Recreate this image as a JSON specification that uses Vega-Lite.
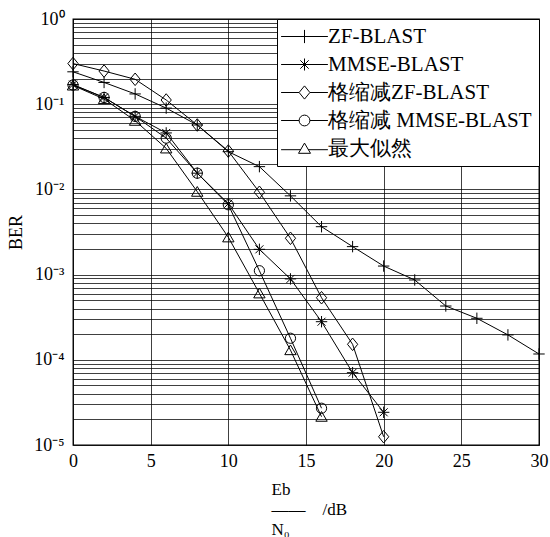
{
  "$schema": "https://vega.github.io/schema/vega-lite/v6.json",
  "width": 466,
  "height": 426,
  "autosize": {"type": "none"},
  "padding": {"left": 73, "top": 19, "right": 11, "bottom": 92},
  "background": "white",
  "config": {
    "view": {"stroke": "#000", "strokeWidth": 1.3},
    "font": "Liberation Serif",
    "axis": {
      "domain": false,
      "ticks": false,
      "grid": true,
      "gridColor": "#000",
      "gridOpacity": 0.75,
      "gridWidth": 1,
      "labelFont": "Liberation Serif",
      "labelFontSize": 18,
      "labelColor": "#000",
      "titleFont": "Liberation Serif",
      "titleFontWeight": "normal",
      "titleColor": "#000",
      "titleFontSize": 18,
      "labelOverlap": false,
      "labelBound": false,
      "labelFlush": false
    },
    "legend": {
      "orient": "top-right",
      "offset": 0,
      "padding": 7,
      "strokeColor": "#000",
      "fillColor": "#fff",
      "labelFont": "Liberation Serif",
      "labelFontSize": 21,
      "labelColor": "#000",
      "symbolSize": 144,
      "symbolOffset": 10,
      "symbolOpacity": 1,
      "symbolStrokeWidth": 1,
      "symbolStrokeColor": "#000",
      "symbolFillColor": "transparent",
      "labelOffset": 13,
      "rowPadding": 6,
      "labelLimit": 400
    }
  },
  "data": {
    "values": [
      {"snr": 0, "ber": 0.24, "method": "ZF-BLAST"},
      {"snr": 2, "ber": 0.18, "method": "ZF-BLAST"},
      {"snr": 4, "ber": 0.132, "method": "ZF-BLAST"},
      {"snr": 6, "ber": 0.09, "method": "ZF-BLAST"},
      {"snr": 8, "ber": 0.057, "method": "ZF-BLAST"},
      {"snr": 10, "ber": 0.0277, "method": "ZF-BLAST"},
      {"snr": 12, "ber": 0.0185, "method": "ZF-BLAST"},
      {"snr": 14, "ber": 0.0084, "method": "ZF-BLAST"},
      {"snr": 16, "ber": 0.00365, "method": "ZF-BLAST"},
      {"snr": 18, "ber": 0.00213, "method": "ZF-BLAST"},
      {"snr": 20, "ber": 0.00126, "method": "ZF-BLAST"},
      {"snr": 22, "ber": 0.000865, "method": "ZF-BLAST"},
      {"snr": 24, "ber": 0.000428, "method": "ZF-BLAST"},
      {"snr": 26, "ber": 0.000307, "method": "ZF-BLAST"},
      {"snr": 28, "ber": 0.000196, "method": "ZF-BLAST"},
      {"snr": 30, "ber": 0.000117, "method": "ZF-BLAST"},
      {"snr": 0, "ber": 0.17, "method": "MMSE-BLAST"},
      {"snr": 2, "ber": 0.12, "method": "MMSE-BLAST"},
      {"snr": 4, "ber": 0.072, "method": "MMSE-BLAST"},
      {"snr": 6, "ber": 0.046, "method": "MMSE-BLAST"},
      {"snr": 8, "ber": 0.0155, "method": "MMSE-BLAST"},
      {"snr": 10, "ber": 0.0068, "method": "MMSE-BLAST"},
      {"snr": 12, "ber": 0.00198, "method": "MMSE-BLAST"},
      {"snr": 14, "ber": 0.00089, "method": "MMSE-BLAST"},
      {"snr": 16, "ber": 0.00028, "method": "MMSE-BLAST"},
      {"snr": 18, "ber": 0.0000706, "method": "MMSE-BLAST"},
      {"snr": 20, "ber": 0.0000242, "method": "MMSE-BLAST"},
      {"snr": 0, "ber": 0.30, "method": "格缩减ZF-BLAST"},
      {"snr": 2, "ber": 0.245, "method": "格缩减ZF-BLAST"},
      {"snr": 4, "ber": 0.196, "method": "格缩减ZF-BLAST"},
      {"snr": 6, "ber": 0.112, "method": "格缩减ZF-BLAST"},
      {"snr": 8, "ber": 0.057, "method": "格缩减ZF-BLAST"},
      {"snr": 10, "ber": 0.0282, "method": "格缩减ZF-BLAST"},
      {"snr": 12, "ber": 0.00925, "method": "格缩减ZF-BLAST"},
      {"snr": 14, "ber": 0.00267, "method": "格缩减ZF-BLAST"},
      {"snr": 16, "ber": 0.000535, "method": "格缩减ZF-BLAST"},
      {"snr": 18, "ber": 0.000152, "method": "格缩减ZF-BLAST"},
      {"snr": 20, "ber": 0.0000125, "method": "格缩减ZF-BLAST"},
      {"snr": 0, "ber": 0.168, "method": "格缩减 MMSE-BLAST"},
      {"snr": 2, "ber": 0.12, "method": "格缩减 MMSE-BLAST"},
      {"snr": 4, "ber": 0.072, "method": "格缩减 MMSE-BLAST"},
      {"snr": 6, "ber": 0.04, "method": "格缩减 MMSE-BLAST"},
      {"snr": 8, "ber": 0.0155, "method": "格缩减 MMSE-BLAST"},
      {"snr": 10, "ber": 0.0066, "method": "格缩减 MMSE-BLAST"},
      {"snr": 12, "ber": 0.00111, "method": "格缩减 MMSE-BLAST"},
      {"snr": 14, "ber": 0.000179, "method": "格缩减 MMSE-BLAST"},
      {"snr": 16, "ber": 0.000027, "method": "格缩减 MMSE-BLAST"},
      {"snr": 0, "ber": 0.166, "method": "最大似然"},
      {"snr": 2, "ber": 0.115, "method": "最大似然"},
      {"snr": 4, "ber": 0.064, "method": "最大似然"},
      {"snr": 6, "ber": 0.0303, "method": "最大似然"},
      {"snr": 8, "ber": 0.0094, "method": "最大似然"},
      {"snr": 10, "ber": 0.00274, "method": "最大似然"},
      {"snr": 12, "ber": 0.000603, "method": "最大似然"},
      {"snr": 14, "ber": 0.00013, "method": "最大似然"},
      {"snr": 16, "ber": 0.0000215, "method": "最大似然"}
    ]
  },
  "encoding": {
    "x": {
      "field": "snr",
      "type": "quantitative",
      "scale": {"domain": [0, 30], "nice": false, "zero": false},
      "axis": {
        "values": [0, 5, 10, 15, 20, 25, 30],
        "labelFont": "Liberation Serif",
        "labelPadding": 7,
        "titlePadding": 11,
        "titleAlign": "left",
        "titleX": 198,
        "titleFontSize": 17,
        "titleLineHeight": 20,
        "title": ["\u00a0\u00a0Eb", "——\u00a0\u00a0\u00a0\u00a0/dB", "\u00a0\u00a0N₀"]
      }
    },
    "y": {
      "field": "ber",
      "type": "quantitative",
      "scale": {"type": "log", "domain": [0.00001, 1], "nice": false},
      "axis": {
        "title": "BER",
        "labelFont": "Liberation Serif",
        "titlePadding": 8,
        "labelPadding": 9,
        "values": [0.00001, 0.00002, 0.00003, 0.00004, 0.00005, 0.00006, 0.00007, 0.00008, 0.00009,
                   0.0001, 0.0002, 0.0003, 0.0004, 0.0005, 0.0006, 0.0007, 0.0008, 0.0009,
                   0.001, 0.002, 0.003, 0.004, 0.005, 0.006, 0.007, 0.008, 0.009,
                   0.01, 0.02, 0.03, 0.04, 0.05, 0.06, 0.07, 0.08, 0.09,
                   0.1, 0.2, 0.3, 0.4, 0.5, 0.6, 0.7, 0.8, 0.9, 1],
        "labelExpr": "datum.value == 1 ? '10⁰' : datum.value == 0.1 ? '10⁻¹' : datum.value == 0.01 ? '10⁻²' : datum.value == 0.001 ? '10⁻³' : datum.value == 0.0001 ? '10⁻⁴' : datum.value == 0.00001 ? '10⁻⁵' : ''"
      }
    }
  },
  "layer": [
    {
      "mark": {"type": "line", "color": "#000", "strokeWidth": 1},
      "encoding": {"detail": {"field": "method"}}
    },
    {
      "mark": {"type": "point", "filled": false, "color": "#000", "strokeWidth": 1, "size": 130, "opacity": 1},
      "encoding": {
        "shape": {
          "field": "method",
          "type": "nominal",
          "legend": null,
          "scale": {
            "domain": ["ZF-BLAST", "MMSE-BLAST", "格缩减ZF-BLAST", "格缩减 MMSE-BLAST", "最大似然"],
            "range": [
              "M-1,0H1M0,-1V1",
              "M-1,0H1M0,-1V1M-0.7,-0.7L0.7,0.7M-0.7,0.7L0.7,-0.7",
              "M0,-1.1L0.9,0L0,1.1L-0.9,0Z",
              "M-0.9,0A0.9,0.9,0,1,1,0.9,0A0.9,0.9,0,1,1,-0.9,0Z",
              "M0,-0.9L1,0.8L-1,0.8Z"
            ]
          }
        }
      }
    },
    {
      "mark": {"type": "point", "filled": false, "color": "#000", "strokeWidth": 1, "opacity": 0},
      "encoding": {
        "shape": {
          "field": "method",
          "type": "nominal",
          "scale": {
            "domain": ["ZF-BLAST", "MMSE-BLAST", "格缩减ZF-BLAST", "格缩减 MMSE-BLAST", "最大似然"],
            "range": [
              "M-3.9,0H3.9M0,-1.1V1.1",
              "M-3.9,0H3.9M0,-1V1M-0.7,-0.7L0.7,0.7M-0.7,0.7L0.7,-0.7",
              "M-3.9,0H-0.9M0.9,0H3.9M0,-1.1L0.9,0L0,1.1L-0.9,0Z",
              "M-3.9,0H-0.9M0.9,0H3.9M-0.9,0A0.9,0.9,0,1,1,0.9,0A0.9,0.9,0,1,1,-0.9,0Z",
              "M-3.9,0.2H-0.6M0.6,0.2H3.9M0,-0.9L1,0.8L-1,0.8Z"
            ]
          },
          "legend": {
            "title": null,
            "labelFont": "Liberation Serif",
            "symbolOpacity": 1
          }
        }
      }
    }
  ],
  "resolve": {"scale": {"shape": "independent"}}
}
